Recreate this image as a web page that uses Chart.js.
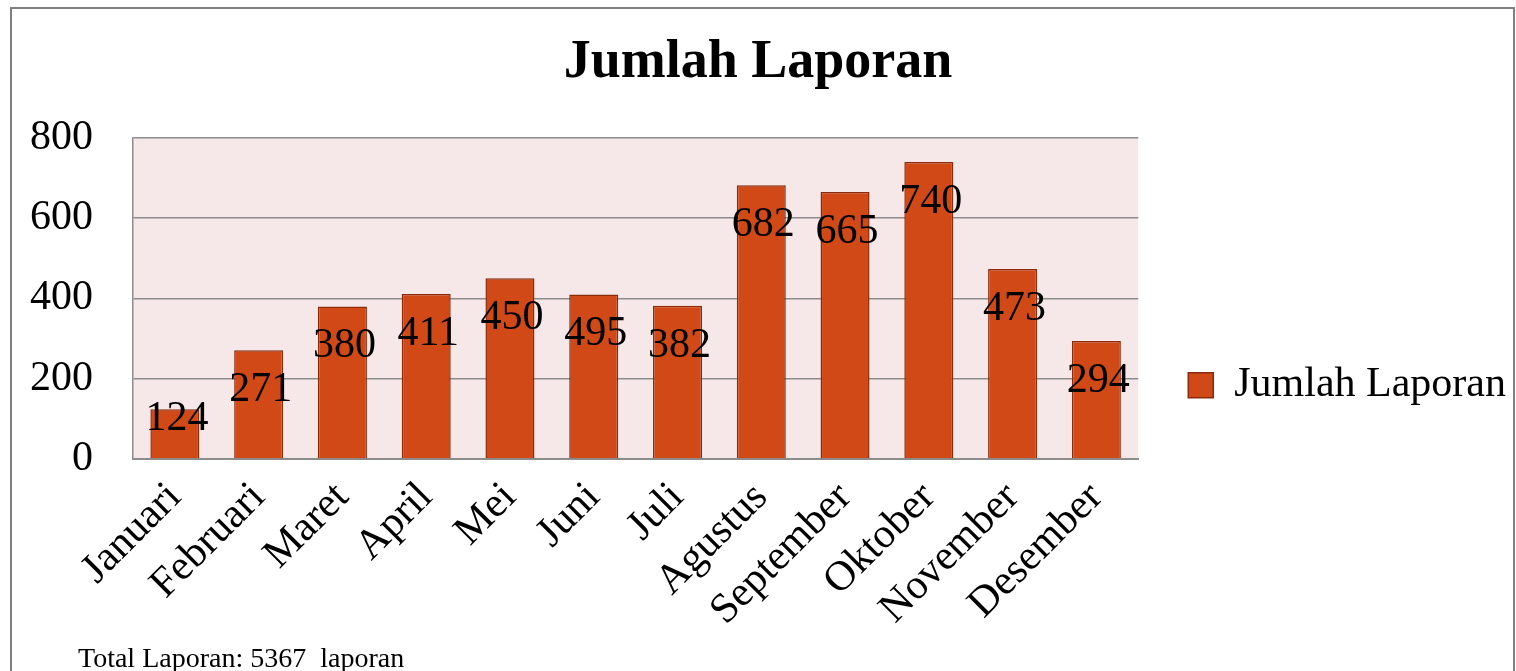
<!DOCTYPE html>
<html>
<head>
<meta charset="utf-8">
<script src="https://cdn.jsdelivr.net/npm/chart.js@4.4.1/dist/chart.umd.min.js"></script>
<style>
  html, body { margin: 0; padding: 0; background: #fff; }
  #wadah { position: relative; width: 1516px; height: 671px; overflow: hidden; }
  #wadah canvas { position: absolute; left: 0; top: 0; }
  #bingkai { position: absolute; left: 10px; top: 7px; width: 1501px; height: 700px; border: 2px solid #808080; pointer-events: none; }
  #total { position: absolute; left: 78px; top: 644px; font: 28px/28px "Liberation Serif", serif; color: #000; white-space: pre; }
</style>
</head>
<body>
<div id="wadah">
  <canvas id="chart-laporan" width="1516" height="671"></canvas>
  <div id="bingkai"></div>
  <div id="total"></div>
</div>
<script>
const bulan = ['Januari', 'Februari', 'Maret', 'April', 'Mei', 'Juni', 'Juli', 'Agustus', 'September', 'Oktober', 'November', 'Desember'];
// tinggi batang seperti yang tergambar
const jumlahBatang = [124, 271, 380, 411, 450, 410, 382, 682, 665, 740, 473, 294];
// angka yang tertulis di atas batang
const labelAngka = [124, 271, 380, 411, 450, 495, 382, 682, 665, 740, 473, 294];
const tickY = [0, 200, 400, 600, 800];

const FONT = '"Liberation Serif", "Times New Roman", serif';

const latarPlot = {
  id: 'latarPlot',
  beforeDraw(chart) {
    const { ctx, chartArea: a } = chart;
    ctx.save();
    ctx.fillStyle = '#f6e8e8';
    ctx.fillRect(a.left, a.top, a.right - a.left, a.bottom - a.top);
    ctx.restore();
  }
};

const labelNilai = {
  id: 'labelNilai',
  afterDatasetsDraw(chart) {
    const ctx = chart.ctx;
    const meta = chart.getDatasetMeta(0);
    ctx.save();
    ctx.font = '42px ' + FONT;
    ctx.fillStyle = '#000';
    ctx.textAlign = 'center';
    ctx.textBaseline = 'middle';
    meta.data.forEach((bar, i) => {
      const y = Math.min(bar.y + 40, bar.base - 39);
      ctx.fillText(String(labelAngka[i]), bar.x + 2, y);
    });
    ctx.restore();
  }
};

const ctx = document.getElementById('chart-laporan').getContext('2d');
new Chart(ctx, {
  type: 'bar',
  data: {
    labels: bulan,
    datasets: [{
      label: 'Jumlah Laporan',
      data: jumlahBatang,
      backgroundColor: '#d14917',
      borderColor: '#8c2b0c',
      borderWidth: 1.5,
      categoryPercentage: 1,
      barPercentage: 0.585
    }]
  },
  options: {
    responsive: false,
    animation: false,
    layout: { padding: 0 },
    plugins: {
      tooltip: { enabled: false },
      title: {
        display: true,
        text: 'Jumlah Laporan',
        color: '#000',
        font: { family: FONT, size: 54, weight: 'bold' },
        padding: { top: 31, bottom: 42 }
      },
      legend: {
        position: 'right',
        labels: {
          color: '#000',
          font: { family: FONT, size: 42 },
          boxWidth: 25,
          boxHeight: 25,
          padding: 50
        },
        title: { display: true, text: '', font: { size: 12 }, padding: { top: 85, bottom: 0 } }
      }
    },
    scales: {
      x: {
        grid: { display: false, drawTicks: false },
        border: { display: true, color: '#8c8c8c', width: 2 },
        ticks: {
          color: '#000',
          font: { family: FONT, size: 42 },
          maxRotation: 45,
          minRotation: 45,
          autoSkip: false,
          padding: 14
        },
        afterFit(s) { s.height = 212; }
      },
      y: {
        min: 0,
        max: 800,
        grid: { color: '#8c8c8c', lineWidth: 1.5, drawTicks: false },
        border: { display: true, color: '#8c8c8c', width: 1.5 },
        ticks: {
          color: '#000',
          font: { family: FONT, size: 42 },
          padding: 40
        },
        afterBuildTicks(s) { s.ticks = tickY.map(v => ({ value: v })); },
        afterFit(s) { s.width = 133; }
      }
    }
  },
  plugins: [latarPlot, labelNilai]
});

const total = labelAngka.reduce((a, b) => a + b, 0);
document.getElementById('total').textContent = 'Total Laporan: ' + total + '  laporan';
</script>
</body>
</html>
